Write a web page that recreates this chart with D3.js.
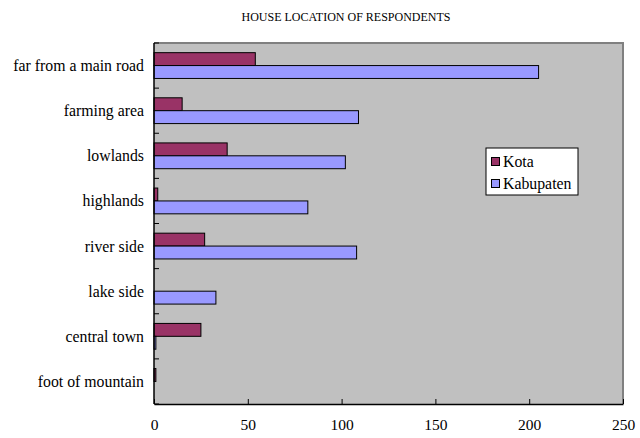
<!DOCTYPE html>
<html>
<head>
<meta charset="utf-8">
<script src="https://cdn.jsdelivr.net/npm/d3@7"></script>
<style>
  body { margin: 0; background: #ffffff; }
  text { font-family: "Liberation Serif", "Times New Roman", serif; fill: #000000; }
</style>
</head>
<body>
<div id="chart"></div>
<script>
const WIDTH = 640;
const HEIGHT = 438;
const PLOT = { left: 154, right: 623, top: 43, bottom: 404 };

// Data
const CATEGORIES = ["far from a main road", "farming area", "lowlands", "highlands",
    "river side", "lake side", "central town", "foot of mountain"];
const SERIES_NAMES = ["Kota", "Kabupaten"];
const KOTA = [54, 15, 39, 2, 27, 0, 25, 1];
const KABUPATEN = [205, 109, 102, 82, 108, 33, 1, 0];
const X_TICKS = [0, 50, 100, 150, 200, 250];
const COLORS = ["#993366", "#9999FF"];

const svg = d3.select("#chart").append("svg")
    .attr("width", WIDTH)
    .attr("height", HEIGHT);

const x = d3.scaleLinear().domain([0, 250]).range([PLOT.left, PLOT.right]);
const y = d3.scaleBand().domain(CATEGORIES).range([PLOT.top, PLOT.bottom]).paddingInner(0).paddingOuter(0);
const bw = y.bandwidth() / 3.5;
const ySub = d3.scaleBand().domain(SERIES_NAMES).range([0.75 * bw, 2.75 * bw]);

// title
svg.append("text")
    .attr("x", 346)
    .attr("y", 21)
    .attr("text-anchor", "middle")
    .style("font-size", "12px")
    .text("HOUSE LOCATION OF RESPONDENTS");

// plot background
svg.append("rect")
    .attr("x", PLOT.left).attr("y", PLOT.top)
    .attr("width", PLOT.right - PLOT.left).attr("height", PLOT.bottom - PLOT.top)
    .attr("fill", "#C0C0C0");

// gray frame top / right
svg.append("path")
    .attr("d", `M${PLOT.left},${PLOT.top}H${PLOT.right}V${PLOT.bottom}`)
    .attr("fill", "none")
    .attr("stroke", "#808080")
    .attr("stroke-width", 2);

// bars
const rows = CATEGORIES.map((c, i) => ({ cat: c, values: [KOTA[i], KABUPATEN[i]] }));
const groups = svg.selectAll("g.row")
    .data(rows)
    .join("g")
    .attr("class", "row")
    .attr("transform", d => `translate(0,${y(d.cat)})`);

groups.selectAll("rect")
    .data(d => d.values.map((v, j) => ({ name: SERIES_NAMES[j], value: v, color: COLORS[j] })))
    .join("rect")
    .filter(d => d.value > 0)
    .attr("x", x(0))
    .attr("y", d => ySub(d.name))
    .attr("width", d => x(d.value) - x(0))
    .attr("height", ySub.bandwidth())
    .attr("fill", d => d.color)
    .attr("stroke", "#000000")
    .attr("stroke-width", 1);

// x axis
const xAxis = d3.axisBottom(x).tickValues(X_TICKS).tickSizeInner(-5).tickSizeOuter(0).tickPadding(15);
const gx = svg.append("g")
    .attr("transform", `translate(0,${PLOT.bottom})`)
    .call(xAxis);
gx.select(".domain").attr("stroke", "#000000").attr("stroke-width", 1.5);
gx.selectAll(".tick line").attr("stroke", "#000000");
gx.selectAll("text").style("font-size", "15.5px").style("font-family", "Liberation Serif");

// y axis: ticks between categories, labels at band centre
const boundaries = d3.range(CATEGORIES.length + 1).map(i => PLOT.top + i * y.step());
svg.selectAll("line.ytick")
    .data(boundaries)
    .join("line")
    .attr("class", "ytick")
    .attr("x1", PLOT.left).attr("x2", PLOT.left + 5)
    .attr("y1", d => d).attr("y2", d => d)
    .attr("stroke", "#000000");

svg.append("line")
    .attr("x1", PLOT.left).attr("x2", PLOT.left)
    .attr("y1", PLOT.top).attr("y2", PLOT.bottom)
    .attr("stroke", "#000000")
    .attr("stroke-width", 1.5);

svg.selectAll("text.ylabel")
    .data(CATEGORIES)
    .join("text")
    .attr("class", "ylabel")
    .attr("x", PLOT.left - 10)
    .attr("y", d => y(d) + y.bandwidth() / 2)
    .attr("dy", "0.35em")
    .attr("text-anchor", "end")
    .style("font-size", "15.8px")
    .text(d => d);

// legend
const legend = svg.append("g").attr("transform", "translate(486,148)");
legend.append("rect")
    .attr("width", 92).attr("height", 47)
    .attr("fill", "#ffffff")
    .attr("stroke", "#000000");
SERIES_NAMES.forEach((name, i) => {
    legend.append("rect")
        .attr("x", 5.5).attr("y", 9.5 + i * 22)
        .attr("width", 8).attr("height", 8)
        .attr("fill", COLORS[i])
        .attr("stroke", "#000000");
    legend.append("text")
        .attr("x", 17).attr("y", 13.5 + i * 22)
        .attr("dy", "0.35em")
        .style("font-size", "15.8px")
        .text(name);
});
</script>
</body>
</html>
